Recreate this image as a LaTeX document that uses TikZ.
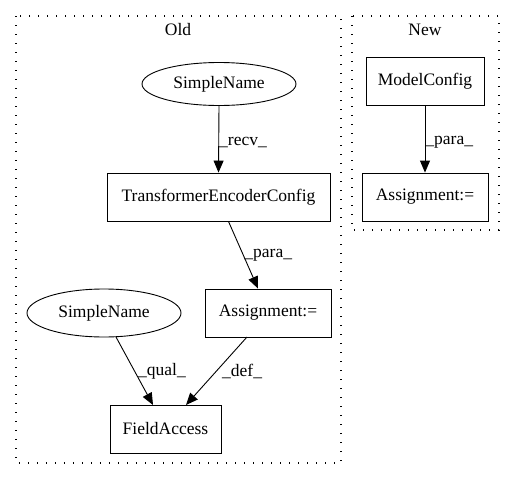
\documentclass[tikz,border=0pt]{standalone}
\usepackage{fontspec}
\setmainfont{Liberation Serif}
\usetikzlibrary{arrows.meta,shapes.geometric}
\begin{document}
\begin{tikzpicture}[x=1pt,y=-1pt,
  every node/.style={font=\fontsize{17.5}{20}\selectfont},
  box/.style={draw,rectangle,inner sep=0pt,line width=0.9pt},
  oval/.style={draw,ellipse,inner sep=0pt,line width=0.9pt},
  cluster/.style={draw,line width=1.3pt,dash pattern=on 1.3pt off 7.7pt},
  edge/.style={-{Triangle[length=12pt,width=10pt]},line width=0.9pt},
  lab/.style={inner sep=0pt,anchor=west}]
\useasboundingbox (0,0) rectangle (515,480);
\draw[cluster] (16,16) rectangle (341,463);
\draw[cluster] (352,16) rectangle (499,230);
\node (oldt) at (178,30) {Old};
\node (newt) at (425,30) {New};
\node[oval,minimum width=154pt,minimum height=43pt] (sn1) at (219,84) {SimpleName};
\node[box,minimum width=223pt,minimum height=48pt] (tec) at (218.5,197) {TransformerEncoderConfig};
\node[box,minimum width=126pt,minimum height=48pt] (as1) at (268,313) {Assignment:=};
\node[oval,minimum width=154pt,minimum height=48pt] (sn2) at (104,313) {SimpleName};
\node[box,minimum width=111pt,minimum height=48pt] (fa) at (165.5,429) {FieldAccess};
\node[box,minimum width=118pt,minimum height=48pt] (mc) at (425,81) {ModelConfig};
\node[box,minimum width=126pt,minimum height=48pt] (as2) at (425,197) {Assignment:=};
\draw[edge] (sn1.south) -- (tec.north) node[lab,pos=0.55] {\_recv\_};
\draw[edge] (tec.south) ++(10,0) coordinate (t1) -- (as1.north -| 258,0) coordinate (t2);
\path (t1) -- (t2) node[lab,pos=0.5,xshift=1pt] {\_para\_};
\draw[edge] (116,337) coordinate (q1) -- (153,405) coordinate (q2);
\draw[edge] (247,337) coordinate (d1) -- (186,405) coordinate (d2);
\node[lab] (ql) at (138,371) {\_qual\_};
\node[lab] (dl) at (222,371) {\_def\_};
\draw[edge] (mc.south) -- (as2.north) node[lab,pos=0.55] {\_para\_};
\end{tikzpicture}
\end{document}
